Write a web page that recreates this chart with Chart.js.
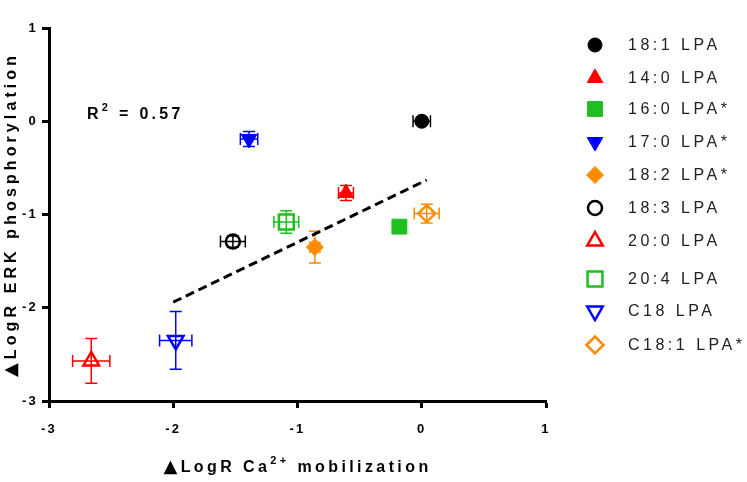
<!DOCTYPE html>
<html><head><meta charset="utf-8">
<script src="https://cdn.jsdelivr.net/npm/chart.js@4/dist/chart.umd.min.js"></script>
<style>html,body{margin:0;padding:0;background:#fff;} #wrap{width:747px;height:482px;position:relative;}</style>
</head><body><div id="wrap"><canvas id="c" width="747" height="482"></canvas></div>
<script>
// ---- data ----
const seriesNames = ['18:1 LPA','14:0 LPA','16:0 LPA*','17:0 LPA*','18:2 LPA*','18:3 LPA','20:0 LPA','20:4 LPA','C18 LPA','C18:1 LPA*'];
const caValues   = [0.00, -0.61, -0.18, -1.39, -0.86, -1.52, -2.66, -1.09, -1.98, 0.04];
const erkValues  = [0.00, -0.77, -1.13, -0.19, -1.35, -1.29, -2.57, -1.08, -2.35, -0.99];
const caErrors   = [0.07, 0.06, 0.05, 0.07, 0.04, 0.10, 0.15, 0.10, 0.13, 0.10];
const erkErrors  = [0.02, 0.08, 0.06, 0.08, 0.17, 0.06, 0.24, 0.12, 0.31, 0.10];
const fitX = [-2.0, 0.04];
const fitY = [-1.94, -0.63];
const xTickValues = [-3, -2, -1, 0, 1];
const yTickValues = [-3, -2, -1, 0, 1];
const rSquaredText = '0.57';

// ---- styles ----
const colors = ['#000000','#ff0000','#1fbf1f','#0000ff','#ff8c00','#000000','#ff0000','#1fbf1f','#0000ff','#ff8c00'];
const shapes = ['circle','triangle','rect','triangle','rectRot','circle','triangle','rect','triangle','rectRot'];
const rotations = [0,0,0,180,0,0,0,0,180,0];
const filled = [true,true,true,true,true,false,false,false,false,false];
const radiusFor = {circle:7, triangle:9, rect:10.5, rectRot:8.5};
const legendRowY = [45, 78, 109, 142, 175, 208, 241, 279, 311, 345];
const FONT = "'Liberation Sans', Arial, sans-serif";

function marker(i){
  return {pointStyle: shapes[i], rotation: rotations[i], radius: radiusFor[shapes[i]],
    borderWidth: filled[i] ? 1 : 2.5};
}

const datasets = seriesNames.map((name, i) => {
  const m = marker(i);
  return {
    label: name,
    data: [{x: caValues[i], y: erkValues[i]}],
    backgroundColor: filled[i] ? colors[i] : 'rgba(0,0,0,0)',
    borderColor: colors[i],
    pointStyle: m.pointStyle, rotation: m.rotation, pointRadius: m.radius, borderWidth: m.borderWidth
  };
});
datasets.push({
  label: 'fit', data: fitX.map((v,k)=>({x:v, y:fitY[k]})),
  showLine: true, borderColor:'#000', borderWidth:3, borderDash:[9,5], pointRadius:0, fill:false
});

const spacing = {
  id:'spacing',
  beforeDraw(chart){ chart.ctx.letterSpacing = '2.2px'; }
};

const errorBars = {
  id:'errorBars',
  beforeDatasetsDraw(chart){
    const {ctx, scales:{x, y}} = chart;
    const cap = 6;
    ctx.save();
    ctx.lineWidth = 1.5;
    for (let i = 0; i < seriesNames.length; i++){
      const px = x.getPixelForValue(caValues[i]), py = y.getPixelForValue(erkValues[i]);
      const x1 = x.getPixelForValue(caValues[i]-caErrors[i]), x2 = x.getPixelForValue(caValues[i]+caErrors[i]);
      const y1 = y.getPixelForValue(erkValues[i]-erkErrors[i]), y2 = y.getPixelForValue(erkValues[i]+erkErrors[i]);
      ctx.strokeStyle = colors[i];
      ctx.beginPath();
      ctx.moveTo(x1, py); ctx.lineTo(x2, py);
      ctx.moveTo(x1, py-cap); ctx.lineTo(x1, py+cap);
      ctx.moveTo(x2, py-cap); ctx.lineTo(x2, py+cap);
      ctx.moveTo(px, y1); ctx.lineTo(px, y2);
      ctx.moveTo(px-cap, y1); ctx.lineTo(px+cap, y1);
      ctx.moveTo(px-cap, y2); ctx.lineTo(px+cap, y2);
      ctx.stroke();
    }
    ctx.restore();
  }
};

function drawPieces(ctx, pieces, startX, baseY){
  let cx = startX;
  for (const p of pieces){
    ctx.font = p.font;
    ctx.fillText(p.t, cx, baseY + (p.dy||0));
    cx += ctx.measureText(p.t).width;
  }
  return cx;
}
function piecesWidth(ctx, pieces){
  let w = 0;
  for (const p of pieces){ ctx.font = p.font; w += ctx.measureText(p.t).width; }
  return w;
}

const annotations = {
  id:'annotations',
  afterDraw(chart){
    const {ctx, chartArea:a} = chart;
    ctx.save();
    ctx.fillStyle = '#000';
    ctx.textBaseline = 'alphabetic';
    ctx.textAlign = 'left';
    ctx.letterSpacing = '3.4px';
    const big = 'bold 16px ' + FONT, sup = 'bold 11px ' + FONT;
    // x title
    const xt = [{t:'▲', font:'bold 18px DejaVu Sans, sans-serif'},{t:'LogR Ca', font:big},{t:'2+', font:sup, dy:-8},{t:' mobilization', font:big}];
    const xw = piecesWidth(ctx, xt);
    drawPieces(ctx, xt, (a.left + a.right)/2 - xw/2, 472);
    // y title
    ctx.letterSpacing = '4.1px';
    const yt = [{t:'▲', font:'bold 18px DejaVu Sans, sans-serif'},{t:'LogR ERK phosphorylation', font:big}];
    const yw = piecesWidth(ctx, yt);
    ctx.save();
    ctx.translate(16, (a.top + a.bottom)/2);
    ctx.rotate(-Math.PI/2);
    drawPieces(ctx, yt, -yw/2, 0);
    ctx.restore();
    // R^2
    ctx.letterSpacing = '3.3px';
    drawPieces(ctx, [{t:'R', font:big},{t:'2', font:sup, dy:-8},{t:' = ' + rSquaredText, font:big}], 87, 119);
    // legend
    ctx.letterSpacing = '3.5px';
    ctx.font = '16px ' + FONT;
    ctx.textBaseline = 'middle';
    ctx.fillStyle = '#222';
    for (let i = 0; i < seriesNames.length; i++){
      const ly = legendRowY[i];
      const m = marker(i);
      ctx.save();
      ctx.fillStyle = filled[i] ? colors[i] : 'rgba(0,0,0,0)';
      ctx.strokeStyle = colors[i];
      ctx.lineWidth = m.borderWidth;
      Chart.helpers.drawPoint(ctx, m, 595, ly);
      ctx.restore();
      ctx.fillText(seriesNames[i], 628, ly + 1);
    }
    ctx.restore();
  }
};

const tickFont = {family: FONT, size: 13, weight: 'bold'};
new Chart(document.getElementById('c'), {
  type: 'scatter',
  data: {datasets},
  options: {
    responsive: false, animation: false,
    layout: {padding: {top: 28, right: 201, left: 0, bottom: 0}},
    plugins: {legend: {display:false}, tooltip: {enabled:false}, title:{display:false}},
    scales: {
      x: {
        type:'linear', min:-3, max:1,
        afterBuildTicks: s => { s.ticks = xTickValues.map(v => ({value:v})); },
        afterFit: s => { s.height = 81; },
        grid: {display:true, drawOnChartArea:false, drawTicks:true, tickLength:7, tickWidth:3, tickColor:'#000'},
        border: {display:true, width:3, color:'#000'},
        ticks: {font: tickFont, color:'#000', padding: 14, maxRotation:0}
      },
      y: {
        type:'linear', min:-3, max:1,
        afterBuildTicks: s => { s.ticks = yTickValues.map(v => ({value:v})); },
        afterFit: s => { s.width = 49; },
        grid: {display:true, drawOnChartArea:false, drawTicks:true, tickLength:7, tickWidth:3, tickColor:'#000'},
        border: {display:true, width:3, color:'#000'},
        ticks: {font: tickFont, color:'#000', padding: 4}
      }
    }
  },
  plugins: [spacing, errorBars, annotations]
});
</script>
</body></html>
